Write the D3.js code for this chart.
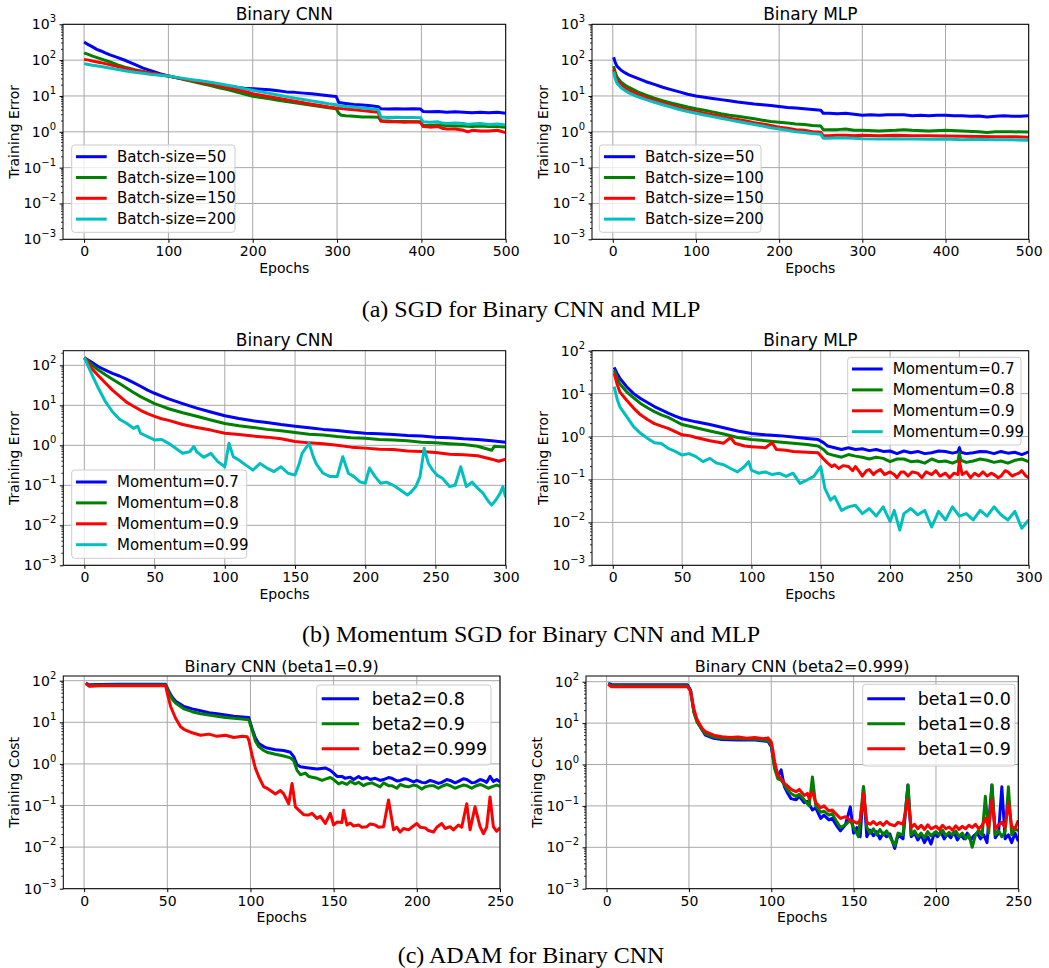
<!DOCTYPE html>
<html>
<head>
<meta charset="utf-8">
<script src="https://cdn.jsdelivr.net/npm/d3@7"></script>
<style>
  body { margin: 0; background: #fff; }
  text { font-family: "DejaVu Sans", sans-serif; fill: #000; }
  .cap { font-family: "Liberation Serif", "Times New Roman", serif; }
</style>
</head>
<body>
<script>
// ---- data: [epoch, value] ----
// (a) SGD, Binary CNN
var sgdCnnB50 = [[0,320],[5,270],[10,235],[15,200],[20,180],[25,160],[30,142],[40,118],[50,96],[60,76],[70,60],[80,50],[90,42],[100,36],[110,32],[120,29],[130,27],[140,25],[150,23.5],[160,21],[170,19],[180,17.5],[190,16.5],[200,16],[210,15.5],[220,15],[230,14],[240,13],[250,12.6],[260,12],[270,11.5],[280,10.8],[290,10.2],[299,9.6],[302,6.6],[310,6.2],[320,5.8],[330,5.6],[340,5.3],[349,5.0],[352,4.4],[360,4.3],[370,4.4],[380,4.3],[390,4.4],[399,4.3],[402,3.7],[410,3.6],[420,3.7],[430,3.5],[440,3.6],[450,3.5],[460,3.4],[470,3.5],[480,3.4],[490,3.5],[500,3.3]];
var sgdCnnB100 = [[0,160],[5,145],[10,130],[20,108],[30,90],[40,74],[50,62],[60,54],[70,48],[80,43],[90,39],[100,36],[110,32],[120,28.5],[130,25],[140,22],[150,19.5],[160,17],[170,15],[180,13],[190,11.3],[200,9.8],[210,9.0],[220,8.3],[230,7.6],[240,7.0],[250,6.5],[260,6.0],[270,5.5],[280,5.1],[290,4.7],[299,4.4],[302,3.3],[305,2.9],[310,2.8],[320,2.7],[330,2.6],[340,2.6],[349,2.55],[352,2.0],[360,2.0],[370,1.95],[380,1.95],[390,1.9],[399,1.9],[402,1.5],[410,1.5],[420,1.55],[430,1.5],[440,1.45],[450,1.45],[460,1.4],[470,1.45],[480,1.4],[490,1.4],[500,1.35]];
var sgdCnnB150 = [[0,105],[5,100],[10,95],[20,85],[30,75],[40,66],[50,58],[60,52],[70,47],[80,43],[90,39],[100,36],[110,32.5],[120,29],[130,26],[140,23.5],[150,21.5],[160,19],[170,17],[180,15],[190,13.5],[200,11.5],[210,10.5],[220,9.5],[230,8.6],[240,7.8],[250,7.1],[260,6.5],[270,5.9],[280,5.4],[290,4.9],[299,4.6],[310,4.3],[320,4.1],[330,3.9],[340,3.7],[349,3.5],[352,2.0],[360,1.9],[370,1.9],[380,1.85],[390,1.9],[399,1.85],[402,1.4],[410,1.35],[420,1.4],[425,1.25],[430,1.2],[440,1.2],[450,1.1],[455,1.0],[460,1.1],[470,1.05],[480,1.05],[490,1.1],[500,0.95]];
var sgdCnnB200 = [[0,80],[5,76],[10,72],[20,66],[30,60],[40,55],[50,50],[60,46],[70,43],[80,40],[90,38],[100,36],[110,33],[120,30.5],[130,28],[140,26],[150,24],[160,22],[170,20],[180,18],[190,16],[200,14.5],[210,13],[220,11.8],[230,10.6],[240,9.6],[250,8.7],[260,8.0],[270,7.3],[280,6.7],[290,6.1],[299,5.7],[302,5.3],[310,5.1],[320,4.9],[330,4.6],[340,4.4],[349,4.1],[352,2.6],[360,2.5],[370,2.55],[380,2.5],[390,2.5],[399,2.45],[402,1.9],[410,1.85],[420,1.9],[425,1.75],[430,1.7],[440,1.75],[450,1.7],[455,1.6],[460,1.65],[470,1.7],[480,1.6],[490,1.65],[500,1.55]];

// (a) SGD, Binary MLP
var sgdMlpB50 = [[1,120],[3,85],[5,68],[10,52],[15,44],[20,38],[30,31],[40,25],[50,21],[60,17.5],[70,15],[80,13],[90,11.2],[100,10],[110,9.2],[120,8.5],[130,7.9],[140,7.4],[150,6.8],[160,6.4],[170,6.0],[180,5.7],[190,5.4],[200,5.1],[210,4.8],[220,4.6],[230,4.4],[240,4.2],[250,4.0],[253,3.3],[260,3.3],[270,3.2],[280,3.3],[290,3.1],[300,2.9],[310,3.0],[320,2.9],[330,3.0],[340,3.0],[350,3.0],[360,2.8],[370,2.9],[380,2.8],[390,2.9],[400,2.9],[410,2.8],[420,2.8],[430,2.7],[440,2.75],[450,2.6],[460,2.7],[470,2.8],[480,2.7],[490,2.7],[500,2.8]];
var sgdMlpB100 = [[1,68],[3,45],[5,34],[10,24],[15,20],[20,17],[30,13],[40,10.5],[50,8.7],[60,7.4],[70,6.4],[80,5.6],[90,4.9],[100,4.4],[110,4.0],[120,3.6],[130,3.2],[140,2.9],[150,2.7],[160,2.5],[170,2.3],[180,2.1],[190,1.95],[200,1.85],[210,1.75],[220,1.65],[230,1.6],[240,1.5],[250,1.45],[253,1.15],[260,1.15],[270,1.15],[280,1.2],[290,1.1],[300,1.1],[320,1.05],[340,1.1],[350,1.15],[360,1.1],[380,1.05],[400,1.1],[420,1.05],[440,1.0],[450,0.95],[460,1.0],[480,1.0],[500,0.98]];
var sgdMlpB150 = [[1,55],[3,36],[5,28],[10,20],[15,16.5],[20,14],[30,11],[40,9],[50,7.5],[60,6.4],[70,5.5],[80,4.7],[90,4.1],[100,3.7],[110,3.3],[120,3.0],[130,2.7],[140,2.4],[150,2.2],[160,2.0],[170,1.8],[180,1.65],[190,1.5],[200,1.35],[210,1.25],[220,1.15],[230,1.1],[240,1.0],[250,0.97],[253,0.78],[260,0.78],[270,0.8],[280,0.8],[290,0.78],[300,0.8],[320,0.78],[340,0.8],[360,0.78],[380,0.77],[400,0.76],[420,0.75],[440,0.74],[460,0.73],[480,0.73],[500,0.71]];
var sgdMlpB200 = [[1,48],[3,30],[5,23],[10,17],[15,14],[20,12],[30,9.5],[40,7.9],[50,6.7],[60,5.7],[70,4.9],[80,4.2],[90,3.7],[100,3.3],[110,2.95],[120,2.65],[130,2.4],[140,2.15],[150,1.95],[160,1.75],[170,1.6],[180,1.45],[190,1.3],[200,1.2],[210,1.1],[220,1.0],[230,0.95],[240,0.9],[250,0.86],[253,0.66],[260,0.66],[270,0.68],[280,0.67],[290,0.66],[300,0.64],[320,0.63],[340,0.64],[360,0.63],[380,0.62],[400,0.63],[420,0.6],[440,0.62],[460,0.6],[480,0.6],[500,0.58]];

// (b) Momentum SGD, Binary CNN
var momCnn07 = [[0,155],[5,120],[10,92],[15,76],[20,63],[25,54],[30,45],[35,37],[40,30],[45,24],[50,20],[55,17],[60,14.5],[70,11],[80,8.5],[90,6.8],[100,5.5],[110,4.7],[120,4.1],[130,3.7],[140,3.3],[150,3.0],[160,2.75],[170,2.5],[180,2.35],[190,2.15],[200,2.0],[210,1.95],[220,1.85],[230,1.75],[240,1.7],[250,1.6],[260,1.55],[270,1.45],[280,1.4],[290,1.3],[300,1.2]];
var momCnn08 = [[0,155],[5,105],[10,76],[15,58],[20,45],[25,35],[30,27],[35,21],[40,16.5],[45,13.5],[50,11],[55,9.5],[60,8.2],[70,6.5],[80,5.3],[90,4.3],[100,3.5],[110,3.1],[120,2.8],[130,2.5],[140,2.3],[150,2.1],[160,1.9],[170,1.8],[180,1.65],[190,1.55],[200,1.5],[210,1.4],[220,1.35],[230,1.3],[240,1.2],[250,1.15],[260,1.1],[270,1.05],[280,0.95],[290,0.75],[292,0.95],[300,0.9]];
var momCnn09 = [[0,155],[3,110],[5,85],[10,55],[15,36],[20,24],[25,17],[30,12],[35,9.5],[40,7.5],[45,6.2],[50,5.3],[55,4.6],[60,4.2],[70,3.3],[80,2.8],[90,2.4],[100,2.0],[110,1.85],[120,1.7],[130,1.6],[140,1.45],[150,1.25],[160,1.15],[170,1.1],[180,1.0],[190,0.9],[200,0.85],[210,0.8],[220,0.78],[230,0.72],[240,0.7],[250,0.66],[260,0.6],[270,0.58],[280,0.55],[290,0.45],[295,0.4],[300,0.45]];
var momCnn099 = [[0,155],[5,63],[10,26.6],[15,12.3],[20,6.9],[25,4.5],[30,3.55],[35,2.66],[38,3.0],[40,2.0],[45,1.65],[50,1.36],[55,1.4],[60,1.12],[65,0.84],[70,0.63],[75,0.69],[78,0.93],[80,0.69],[85,0.5],[90,0.63],[95,0.39],[100,0.29],[103,1.12],[106,0.52],[110,0.43],[115,0.32],[120,0.24],[125,0.35],[130,0.27],[135,0.22],[140,0.29],[145,0.2],[150,0.18],[153,0.35],[155,0.63],[160,1.12],[163,0.52],[165,0.35],[170,0.2],[175,0.165],[180,0.165],[184,0.52],[188,0.2],[192,0.165],[196,0.123],[200,0.112],[203,0.27],[207,0.165],[211,0.112],[215,0.12],[220,0.1],[225,0.076],[230,0.057],[233,0.07],[236,0.093],[239,0.165],[242,0.84],[245,0.35],[248,0.24],[251,0.18],[255,0.15],[260,0.093],[264,0.1],[268,0.29],[272,0.093],[276,0.12],[280,0.085],[284,0.063],[287,0.043],[290,0.032],[293,0.043],[296,0.063],[298,0.093],[300,0.05]];

// (b) Momentum SGD, Binary MLP
var momMlp07 = [[1,41],[3,30],[5,23],[10,14.5],[15,10],[20,7.7],[25,6.2],[30,5],[35,4.2],[40,3.5],[45,3.0],[50,2.6],[60,2.2],[70,1.9],[80,1.6],[90,1.35],[100,1.18],[110,1.1],[120,1.05],[130,0.98],[140,0.9],[148,0.85],[152,0.72],[155,0.6],[160,0.55],[165,0.5],[170,0.55],[175,0.5],[180,0.52],[185,0.47],[190,0.5],[195,0.45],[200,0.46],[205,0.4],[210,0.46],[215,0.42],[220,0.45],[225,0.4],[230,0.42],[235,0.46],[240,0.45],[245,0.41],[249,0.44],[250,0.55],[251,0.43],[255,0.4],[260,0.42],[265,0.45],[270,0.44],[275,0.4],[280,0.45],[285,0.41],[290,0.43],[295,0.38],[300,0.44]];
var momMlp08 = [[1,35],[3,24],[5,17],[10,11],[15,8],[20,5.9],[25,4.7],[30,3.8],[35,3.2],[40,2.8],[45,2.3],[50,1.9],[60,1.6],[70,1.35],[80,1.15],[90,0.95],[100,0.85],[110,0.8],[120,0.75],[130,0.7],[140,0.65],[148,0.6],[152,0.5],[155,0.4],[160,0.36],[165,0.33],[170,0.38],[175,0.35],[180,0.33],[185,0.3],[190,0.33],[195,0.31],[200,0.26],[205,0.3],[210,0.3],[215,0.26],[220,0.27],[225,0.24],[230,0.3],[235,0.26],[240,0.27],[245,0.24],[249,0.27],[250,0.42],[251,0.28],[255,0.25],[260,0.27],[265,0.3],[270,0.28],[275,0.25],[280,0.27],[285,0.24],[290,0.28],[295,0.3],[300,0.26]];
var momMlp09 = [[1,30],[3,17],[5,11],[10,7],[15,4.6],[20,3.2],[25,2.5],[30,2.0],[35,1.75],[40,1.55],[45,1.3],[50,1.1],[55,1.05],[60,0.95],[70,0.8],[75,0.75],[80,0.7],[85,0.95],[88,0.7],[95,0.6],[100,0.58],[110,0.55],[115,0.72],[118,0.5],[125,0.48],[130,0.45],[140,0.43],[148,0.42],[152,0.3],[155,0.24],[158,0.2],[160,0.22],[163,0.18],[166,0.21],[170,0.2],[173,0.16],[175,0.2],[178,0.15],[180,0.12],[183,0.16],[185,0.17],[188,0.13],[190,0.15],[193,0.17],[196,0.13],[200,0.15],[203,0.13],[205,0.11],[208,0.15],[210,0.15],[213,0.12],[216,0.15],[220,0.14],[223,0.11],[226,0.15],[230,0.13],[233,0.16],[236,0.12],[240,0.14],[243,0.11],[246,0.14],[249,0.13],[250,0.27],[252,0.13],[255,0.15],[258,0.11],[261,0.14],[264,0.12],[267,0.15],[270,0.12],[273,0.14],[275,0.13],[278,0.11],[280,0.12],[283,0.16],[285,0.15],[288,0.12],[290,0.13],[293,0.14],[295,0.16],[298,0.12],[300,0.11]];
var momMlp099 = [[1,14.5],[3,7.7],[5,5.0],[10,2.9],[15,1.7],[20,1.19],[25,0.91],[30,0.72],[35,0.69],[40,0.53],[45,0.45],[50,0.37],[55,0.4],[60,0.34],[65,0.26],[70,0.31],[75,0.24],[80,0.22],[85,0.18],[90,0.15],[95,0.2],[98,0.26],[100,0.166],[105,0.14],[110,0.15],[115,0.13],[120,0.14],[125,0.118],[130,0.14],[135,0.081],[140,0.097],[145,0.118],[150,0.2],[153,0.062],[157,0.033],[160,0.04],[165,0.019],[170,0.023],[175,0.025],[180,0.016],[185,0.021],[190,0.014],[195,0.023],[200,0.0105],[203,0.019],[207,0.0066],[210,0.016],[215,0.021],[220,0.015],[225,0.019],[230,0.0078],[235,0.018],[240,0.0114],[245,0.023],[250,0.014],[255,0.016],[260,0.0114],[265,0.019],[270,0.014],[275,0.023],[280,0.015],[285,0.0114],[290,0.018],[295,0.0073],[300,0.0114]];

// (c) ADAM, beta1 = 0.9
var adamB2_08 = [[1,88],[3,80],[10,81],[20,82],[30,82],[40,82],[49,82],[51,55],[53,40],[55,32],[58,27],[60,24],[65,21],[70,19],[75,17],[80,16],[85,15],[90,14],[95,13.5],[99,13],[101,7],[103,4.2],[105,3.1],[108,2.6],[110,2.4],[115,2.2],[120,2.1],[124,1.9],[126,1.5],[128,0.95],[130,0.85],[135,0.8],[140,0.75],[145,0.8],[148,0.7],[150,0.6],[152,0.5],[155,0.5],[157,0.45],[160,0.48],[162,0.42],[165,0.5],[167,0.44],[170,0.47],[172,0.42],[175,0.45],[178,0.4],[180,0.42],[183,0.47],[185,0.45],[188,0.39],[190,0.4],[193,0.44],[195,0.42],[198,0.37],[200,0.4],[203,0.36],[205,0.35],[208,0.4],[210,0.38],[213,0.34],[215,0.36],[218,0.42],[220,0.4],[223,0.35],[225,0.38],[228,0.44],[230,0.42],[233,0.35],[235,0.36],[238,0.42],[240,0.4],[242,0.36],[244,0.5],[246,0.38],[248,0.42],[250,0.37]];
var adamB2_09 = [[1,86],[3,76],[10,78],[20,79],[30,79],[40,79],[49,79],[51,50],[53,36],[55,29],[58,24],[60,21],[65,18],[70,16],[75,15],[80,14],[85,13],[90,12.5],[95,12],[99,11.5],[101,6.5],[103,3.5],[105,2.6],[108,2.1],[110,1.9],[115,1.7],[120,1.55],[124,1.4],[126,1.2],[128,0.7],[130,0.55],[133,0.6],[135,0.5],[140,0.45],[143,0.4],[145,0.43],[148,0.47],[150,0.42],[153,0.33],[155,0.36],[158,0.32],[160,0.38],[163,0.33],[165,0.36],[168,0.3],[170,0.33],[173,0.35],[175,0.32],[178,0.28],[180,0.35],[183,0.3],[185,0.3],[188,0.26],[190,0.32],[193,0.29],[195,0.28],[198,0.31],[200,0.3],[203,0.25],[205,0.28],[208,0.3],[210,0.3],[213,0.26],[215,0.29],[218,0.32],[220,0.3],[223,0.26],[225,0.28],[228,0.31],[230,0.3],[233,0.26],[235,0.29],[238,0.32],[240,0.3],[243,0.26],[245,0.28],[248,0.31],[250,0.29]];
var adamB2_0999 = [[1,86],[3,74],[10,76],[20,76],[30,76],[40,76],[49,76],[50,50],[52,24],[55,12.5],[58,7.8],[60,6.8],[65,5.6],[70,4.9],[75,5.2],[80,4.6],[85,4.9],[90,4.3],[95,4.6],[98,4.5],[99,3.7],[101,1.6],[103,0.78],[105,0.49],[108,0.28],[110,0.26],[115,0.19],[118,0.23],[120,0.19],[123,0.11],[125,0.34],[127,0.093],[130,0.071],[132,0.06],[135,0.059],[137,0.065],[140,0.049],[142,0.055],[145,0.037],[148,0.065],[150,0.034],[152,0.04],[155,0.039],[156,0.077],[158,0.034],[160,0.038],[162,0.032],[165,0.034],[167,0.03],[170,0.031],[172,0.036],[175,0.034],[177,0.03],[180,0.031],[183,0.135],[186,0.026],[188,0.03],[190,0.023],[192,0.028],[195,0.026],[197,0.03],[200,0.037],[202,0.03],[205,0.029],[207,0.025],[210,0.023],[212,0.03],[215,0.037],[217,0.028],[220,0.031],[222,0.026],[225,0.034],[227,0.03],[230,0.11],[232,0.026],[235,0.093],[238,0.031],[240,0.021],[242,0.03],[244,0.16],[246,0.031],[248,0.024],[250,0.029]];

// (c) ADAM, beta2 = 0.999
var adamB1_00 = [[1,91],[3,86],[10,85],[20,85],[30,85],[40,85],[49,85],[51,63],[53,19],[55,10.8],[58,6.8],[60,5.1],[65,4.3],[70,4.0],[80,3.9],[90,3.9],[98,3.6],[100,2.7],[101,1.55],[102,0.88],[104,0.51],[106,0.74],[108,0.29],[110,0.2],[112,0.15],[115,0.14],[117,0.17],[120,0.12],[122,0.13],[125,0.08],[127,0.09],[130,0.05],[132,0.06],[135,0.046],[137,0.05],[140,0.032],[142,0.025],[145,0.035],[148,0.095],[150,0.022],[152,0.03],[154,0.018],[156,0.29],[158,0.018],[160,0.026],[162,0.019],[164,0.024],[166,0.016],[168,0.022],[170,0.018],[172,0.021],[175,0.0094],[177,0.02],[180,0.016],[183,0.32],[185,0.018],[187,0.022],[189,0.015],[191,0.02],[193,0.013],[195,0.018],[197,0.012],[199,0.022],[201,0.018],[203,0.024],[205,0.016],[207,0.021],[209,0.017],[211,0.023],[213,0.015],[215,0.02],[217,0.016],[219,0.022],[221,0.015],[223,0.019],[225,0.022],[227,0.016],[229,0.02],[231,0.013],[234,0.32],[236,0.017],[238,0.022],[240,0.29],[242,0.016],[244,0.02],[246,0.013],[248,0.022],[250,0.014]];
var adamB1_08 = [[1,88],[3,80],[10,80],[20,80],[30,80],[40,80],[49,80],[51,60],[53,18],[55,10.5],[58,7],[60,5.5],[65,4.6],[70,4.3],[80,4.2],[90,4.1],[98,3.8],[100,3],[101,1.6],[102,0.8],[104,0.45],[106,0.42],[108,0.32],[110,0.24],[112,0.2],[115,0.17],[117,0.19],[120,0.14],[123,0.1],[125,0.5],[127,0.1],[130,0.07],[132,0.075],[135,0.06],[137,0.065],[140,0.04],[142,0.03],[145,0.035],[148,0.045],[150,0.03],[153,0.018],[156,0.29],[158,0.03],[160,0.022],[162,0.028],[164,0.02],[166,0.027],[168,0.02],[170,0.025],[172,0.018],[175,0.011],[177,0.022],[180,0.02],[183,0.32],[185,0.02],[187,0.025],[189,0.018],[191,0.022],[193,0.017],[195,0.024],[197,0.019],[200,0.024],[202,0.02],[204,0.026],[206,0.019],[208,0.023],[210,0.02],[212,0.025],[214,0.018],[216,0.022],[218,0.016],[220,0.02],[222,0.01],[224,0.02],[226,0.026],[228,0.019],[230,0.17],[232,0.022],[234,0.32],[236,0.02],[238,0.025],[240,0.018],[242,0.024],[244,0.29],[246,0.02],[248,0.028],[250,0.025]];
var adamB1_09 = [[1,86],[3,76],[10,76],[20,76],[30,76],[40,76],[49,76],[51,60],[53,22],[55,12],[58,7.5],[60,6.2],[65,5.1],[70,4.7],[75,4.5],[80,4.6],[85,4.3],[90,4.5],[95,4.2],[98,4.4],[100,3.5],[101,2.2],[102,1.2],[104,0.55],[106,0.45],[108,0.35],[110,0.3],[112,0.25],[115,0.22],[117,0.25],[120,0.18],[122,0.2],[123,0.15],[125,0.22],[127,0.12],[130,0.09],[132,0.1],[135,0.075],[137,0.08],[140,0.06],[142,0.05],[145,0.055],[148,0.045],[150,0.042],[152,0.038],[154,0.045],[156,0.2],[158,0.04],[160,0.036],[162,0.042],[164,0.035],[166,0.04],[168,0.034],[170,0.042],[172,0.036],[175,0.033],[177,0.04],[180,0.036],[183,0.14],[185,0.03],[187,0.036],[189,0.028],[191,0.034],[193,0.027],[195,0.035],[197,0.028],[200,0.032],[202,0.027],[204,0.034],[206,0.028],[208,0.031],[210,0.026],[212,0.033],[214,0.027],[216,0.032],[218,0.028],[220,0.034],[222,0.03],[224,0.036],[226,0.028],[228,0.034],[230,0.05],[232,0.03],[234,0.14],[236,0.028],[238,0.035],[240,0.04],[242,0.03],[244,0.12],[246,0.032],[248,0.028],[250,0.045]];

var batchLabels = ["Batch-size=50", "Batch-size=100", "Batch-size=150", "Batch-size=200"];
var momLabels = ["Momentum=0.7", "Momentum=0.8", "Momentum=0.9", "Momentum=0.99"];
var beta2Labels = ["beta2=0.8", "beta2=0.9", "beta2=0.999"];
var beta1Labels = ["beta1=0.0", "beta1=0.8", "beta1=0.9"];
var ticks500 = [0, 100, 200, 300, 400, 500];
var ticks300 = [0, 50, 100, 150, 200, 250, 300];
var ticks250 = [0, 50, 100, 150, 200, 250];
var captions = ["(a) SGD for Binary CNN and MLP", "(b) Momentum SGD for Binary CNN and MLP", "(c) ADAM for Binary CNN"];
var colors = ["#0000ff", "#008000", "#ff0000", "#00bfbf"];

var width = 1049, height = 968;
var svg = d3.select('body').append('svg').attr('width', width).attr('height', height);

var panels = [
    {id: 'p1', left: 63, right: 505.7, top: 24.3, bottom: 239.3, xDomain: [-25, 500], yDomain: [1e-3, 1e3], xTicks: ticks500, yExps: [-3, -2, -1, 0, 1, 2, 3],
     title: "Binary CNN", tSize: 17, ylab: "Training Error", ylabX: 13.5, series: [sgdCnnB50, sgdCnnB100, sgdCnnB150, sgdCnnB200], labels: batchLabels,
     leg: {x0: 71.7, x1: 235, y0: 145, y1: 232.3, first: 156.7, step: 20.8, lx0: 76, lx1: 106.7, tx: 117, fs: 15}},
    {id: 'p2', left: 592, right: 1028.7, top: 24.3, bottom: 239.3, xDomain: [-25, 500], yDomain: [1e-3, 1e3], xTicks: ticks500, yExps: [-3, -2, -1, 0, 1, 2, 3],
     title: "Binary MLP", tSize: 17, ylab: "Training Error", ylabX: 542.5, series: [sgdMlpB50, sgdMlpB100, sgdMlpB150, sgdMlpB200], labels: batchLabels,
     leg: {x0: 599.3, x1: 761, y0: 145, y1: 232.3, first: 156.7, step: 20.8, lx0: 604, lx1: 635, tx: 645, fs: 15}},
    {id: 'p3', left: 63.3, right: 505.7, top: 350.7, bottom: 565.3, xDomain: [-15, 300], yDomain: [1e-3, Math.pow(10, 2.365)], xTicks: ticks300, yExps: [-3, -2, -1, 0, 1, 2],
     title: "Binary CNN", tSize: 17, ylab: "Training Error", ylabX: 13.5, series: [momCnn07, momCnn08, momCnn09, momCnn099], labels: momLabels,
     leg: {x0: 71.7, x1: 246.7, y0: 470, y1: 558.3, first: 482, step: 20.9, lx0: 76, lx1: 106.7, tx: 117, fs: 15}},
    {id: 'p4', left: 592, right: 1028.7, top: 350.7, bottom: 565.3, xDomain: [-15, 300], yDomain: [1e-3, 1e2], xTicks: ticks300, yExps: [-3, -2, -1, 0, 1, 2],
     title: "Binary MLP", tSize: 17, ylab: "Training Error", ylabX: 542.5, series: [momMlp07, momMlp08, momMlp09, momMlp099], labels: momLabels,
     leg: {x0: 847.7, x1: 1021, y0: 357.3, y1: 445, first: 369, step: 20.9, lx0: 852, lx1: 882.7, tx: 892.7, fs: 15}},
    {id: 'p5', left: 63.3, right: 500, top: 676, bottom: 888.7, xDomain: [-12.5, 250], yDomain: [1e-3, Math.pow(10, 2.113)], xTicks: ticks250, yExps: [-3, -2, -1, 0, 1, 2],
     title: "Binary CNN (beta1=0.9)", tSize: 16, ylab: "Training Cost", ylabX: 13.5, series: [adamB2_08, adamB2_09, adamB2_0999], labels: beta2Labels,
     leg: {x0: 316.7, x1: 491, y0: 685, y1: 765, first: 698.7, step: 25, lx0: 321.7, lx1: 359, tx: 371.7, fs: 17.5}},
    {id: 'p6', left: 586, right: 1018.3, top: 676, bottom: 888.7, xDomain: [-12.5, 250], yDomain: [1e-3, Math.pow(10, 2.138)], xTicks: ticks250, yExps: [-3, -2, -1, 0, 1, 2],
     title: "Binary CNN (beta2=0.999)", tSize: 16, ylab: "Training Cost", ylabX: 537, series: [adamB1_00, adamB1_08, adamB1_09], labels: beta1Labels,
     leg: {x0: 862.7, x1: 1015, y0: 684.3, y1: 766, first: 698.7, step: 25, lx0: 867.3, lx1: 905, tx: 917.7, fs: 17.5}}
];

function drawPanel(p) {
    var g = svg.append('g').attr('id', p.id);
    var x = d3.scaleLinear().domain(p.xDomain).range([p.left, p.right]);
    var y = d3.scaleLog().domain(p.yDomain).range([p.bottom, p.top]);
    var yTicks = p.yExps.map(function (e) { return Math.pow(10, e); });

    // grid
    g.append('g').selectAll('line').data(p.xTicks).enter().append('line')
        .attr('x1', function (d) { return x(d); }).attr('x2', function (d) { return x(d); })
        .attr('y1', p.top).attr('y2', p.bottom)
        .attr('stroke', '#a8a8a8').attr('stroke-width', 1);
    g.append('g').selectAll('line').data(yTicks).enter().append('line')
        .attr('x1', p.left).attr('x2', p.right)
        .attr('y1', function (d) { return y(d); }).attr('y2', function (d) { return y(d); })
        .attr('stroke', '#a8a8a8').attr('stroke-width', 1);

    // lines
    g.append('clipPath').attr('id', 'clip-' + p.id).append('rect')
        .attr('x', p.left).attr('y', p.top).attr('width', p.right - p.left).attr('height', p.bottom - p.top);
    var line = d3.line().x(function (d) { return x(d[0]); }).y(function (d) { return y(d[1]); });
    g.append('g').attr('clip-path', 'url(#clip-' + p.id + ')').selectAll('path')
        .data(p.series).enter().append('path')
        .attr('d', line)
        .attr('fill', 'none')
        .attr('stroke', function (d, i) { return colors[i]; })
        .attr('stroke-width', 3)
        .attr('stroke-linejoin', 'round');

    // spines
    g.append('rect').attr('x', p.left).attr('y', p.top)
        .attr('width', p.right - p.left).attr('height', p.bottom - p.top)
        .attr('fill', 'none').attr('stroke', '#000').attr('stroke-width', 1);

    // x axis
    var xa = g.append('g').attr('transform', 'translate(0,' + p.bottom + ')')
        .call(d3.axisBottom(x).tickValues(p.xTicks).tickSize(3.5).tickPadding(3.5));
    xa.select('.domain').remove();
    xa.selectAll('text').attr('font-size', 14).attr('font-family', 'DejaVu Sans').attr('fill', '#000');

    // y axis (log, superscript labels)
    var ya = g.append('g').attr('transform', 'translate(' + p.left + ',0)')
        .call(d3.axisLeft(y).tickValues(yTicks).tickSize(3.5).tickFormat(''));
    ya.select('.domain').remove();
    var minors = [];
    p.yExps.forEach(function (e) {
        for (var m = 2; m < 10; m++) {
            var v = m * Math.pow(10, e);
            if (v <= p.yDomain[1]) minors.push(v);
        }
    });
    g.append('g').selectAll('line').data(minors).enter().append('line')
        .attr('x1', p.left - 2).attr('x2', p.left)
        .attr('y1', function (d) { return y(d); }).attr('y2', function (d) { return y(d); })
        .attr('stroke', '#000').attr('stroke-width', 0.8);
    var lab = g.append('g').selectAll('text').data(p.yExps).enter().append('text')
        .attr('x', p.left - 7).attr('y', function (d) { return y(Math.pow(10, d)) + 5; })
        .attr('text-anchor', 'end').attr('font-size', 14);
    lab.append('tspan').text('10');
    lab.append('tspan').attr('dy', -7).attr('font-size', 10)
        .text(function (d) { return d < 0 ? '\u2212' + (-d) : '' + d; });

    // titles
    g.append('text').attr('x', (p.left + p.right) / 2).attr('y', p.top - 4.5)
        .attr('text-anchor', 'middle').attr('font-size', p.tSize).text(p.title);
    g.append('text').attr('x', (p.left + p.right) / 2).attr('y', p.bottom + 33.5)
        .attr('text-anchor', 'middle').attr('font-size', 14).text('Epochs');
    g.append('text').attr('transform', 'translate(' + p.ylabX + ',' + ((p.top + p.bottom) / 2) + ') rotate(-90)')
        .attr('text-anchor', 'middle').attr('dominant-baseline', 'central').attr('font-size', 14).text(p.ylab);

    // legend
    var L = p.leg;
    var lg = g.append('g');
    lg.append('rect').attr('x', L.x0).attr('y', L.y0).attr('width', L.x1 - L.x0).attr('height', L.y1 - L.y0)
        .attr('rx', 3).attr('fill', '#fff').attr('fill-opacity', 0.8).attr('stroke', '#cccccc').attr('stroke-width', 1);
    var items = lg.selectAll('.item').data(p.labels).enter().append('g').attr('class', 'item');
    items.append('line')
        .attr('x1', L.lx0).attr('x2', L.lx1)
        .attr('y1', function (d, i) { return L.first + i * L.step; })
        .attr('y2', function (d, i) { return L.first + i * L.step; })
        .attr('stroke', function (d, i) { return colors[i]; }).attr('stroke-width', 3);
    items.append('text').attr('x', L.tx)
        .attr('y', function (d, i) { return L.first + i * L.step; })
        .attr('dominant-baseline', 'central').attr('font-size', L.fs)
        .text(function (d) { return d; });
}

panels.forEach(drawPanel);

// captions
var capY = [316.5, 641.5, 963];
svg.selectAll('.cap').data(captions).enter().append('text')
    .attr('class', 'cap')
    .attr('x', 531).attr('y', function (d, i) { return capY[i]; })
    .attr('text-anchor', 'middle').attr('font-size', 24)
    .text(function (d) { return d; });
</script>
</body>
</html>
